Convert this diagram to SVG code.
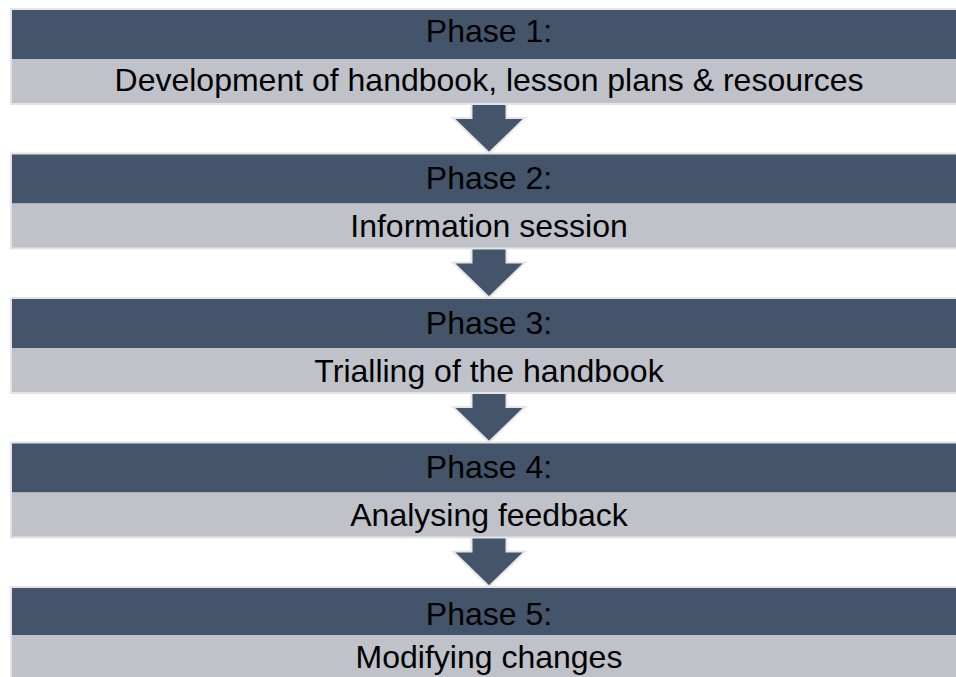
<svg xmlns="http://www.w3.org/2000/svg" width="956" height="677" viewBox="0 0 956 677">
  <defs>
    <style>
      .frame { fill: #e4e4e4; }
      .head { fill: #44546a; }
      .body { fill: #bfc2c9; }
      .lbl { font-family: "Liberation Sans", Arial, sans-serif; font-size: 32px; fill: #000000; text-anchor: middle; }
      .arrow { fill: #44546a; stroke: #e6e6e6; stroke-width: 2; stroke-linejoin: miter; }
    </style>
    <!-- one down arrow, tip at (0,0) -->
    <polygon id="down" class="arrow" points="-17.5,-50 17.5,-50 17.5,-35 36,-35 0,0 -36,-35 -17.5,-35"/>
  </defs>
  <rect width="956" height="677" fill="#ffffff"/>

  <!-- connectors between phases -->
  <g id="connectors">
    <use href="#down" x="489" y="153"/>
    <use href="#down" x="489" y="297.5"/>
    <use href="#down" x="489" y="442"/>
    <use href="#down" x="489" y="586.5"/>
  </g>

  <g id="phase1">
    <rect class="frame" x="10" y="8" width="960" height="97"/>
    <rect class="head" x="12" y="10" width="960" height="49"/>
    <rect class="body" x="12" y="59" width="960" height="44"/>
    <text class="lbl" x="489" y="42">Phase 1:</text>
    <text class="lbl" x="489" y="91">Development of handbook, lesson plans &amp; resources</text>
  </g>

  <g id="phase2">
    <rect class="frame" x="10" y="152.5" width="960" height="97"/>
    <rect class="head" x="12" y="154.5" width="960" height="49"/>
    <rect class="body" x="12" y="203.5" width="960" height="44"/>
    <text class="lbl" x="489" y="189">Phase 2:</text>
    <text class="lbl" x="489" y="237">Information session</text>
  </g>

  <g id="phase3">
    <rect class="frame" x="10" y="297" width="960" height="97"/>
    <rect class="head" x="12" y="299" width="960" height="49"/>
    <rect class="body" x="12" y="348" width="960" height="44"/>
    <text class="lbl" x="489" y="334">Phase 3:</text>
    <text class="lbl" x="489" y="382">Trialling of the handbook</text>
  </g>

  <g id="phase4">
    <rect class="frame" x="10" y="441.5" width="960" height="97"/>
    <rect class="head" x="12" y="443.5" width="960" height="49"/>
    <rect class="body" x="12" y="492.5" width="960" height="44"/>
    <text class="lbl" x="489" y="478">Phase 4:</text>
    <text class="lbl" x="489" y="526">Analysing feedback</text>
  </g>

  <g id="phase5">
    <rect class="frame" x="10" y="586" width="960" height="97"/>
    <rect class="head" x="12" y="588" width="960" height="47"/>
    <rect class="body" x="12" y="635" width="960" height="46"/>
    <text class="lbl" x="489" y="625">Phase 5:</text>
    <text class="lbl" x="489" y="668">Modifying changes</text>
  </g>
</svg>
